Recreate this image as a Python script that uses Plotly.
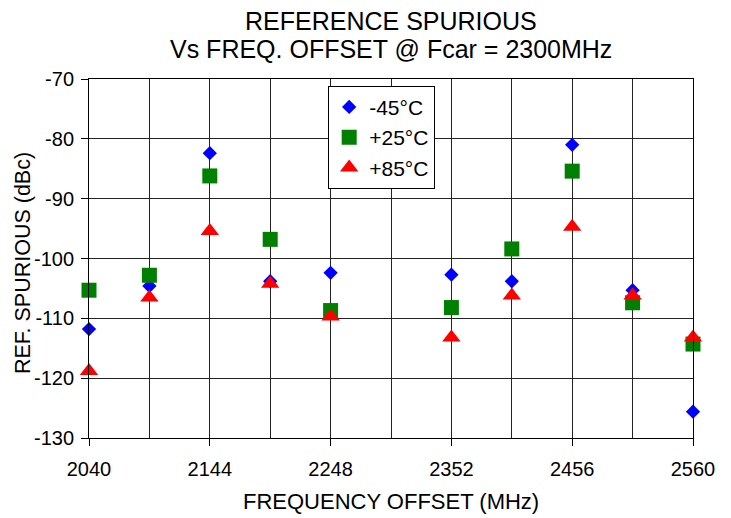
import plotly.graph_objects as go

freq = [2040, 2092, 2144, 2196, 2248, 2300, 2352, 2404, 2456, 2508, 2560]

# values per temperature (None where no visible point)
m45 = [-111.8, -104.6, -82.4, -103.8, -102.4, None, -102.7, -103.8, -81.0, -105.3, -125.6]
p25 = [-105.3, -102.8, -86.2, -96.8, -108.7, None, -108.2, -98.4, -85.4, -107.4, -114.3]
p85 = [-118.8, -106.5, -95.4, -104.2, -109.7, None, -113.2, -106.2, -94.7, -106.2, -113.2]

x_ticks = [2040, 2144, 2248, 2352, 2456, 2560]
y_ticks = [-70, -80, -90, -100, -110, -120, -130]

FONT = "Liberation Sans, Arial, Helvetica, sans-serif"

def pts(vals):
    xs = [f for f, v in zip(freq, vals) if v is not None]
    ys = [v for v in vals if v is not None]
    return xs, ys

fig = go.Figure()
x1, y1 = pts(m45)
fig.add_trace(go.Scatter(x=x1, y=y1, mode="markers", name="-45°C", legendgroup="a", cliponaxis=False,
                         marker=dict(symbol="diamond", size=11, color="#0000FF", line=dict(width=0))))
x2, y2 = pts(p25)
fig.add_trace(go.Scatter(x=x2, y=y2, mode="markers", name="+25°C", legendgroup="b", cliponaxis=False,
                         marker=dict(symbol="square", size=15, color="#008000", line=dict(width=0))))
x3, y3 = pts(p85)
fig.add_trace(go.Scatter(x=x3, y=y3, mode="markers", name="+85°C", legendgroup="c", cliponaxis=False,
                         marker=dict(symbol="triangle-up", size=16, color="#FF0000", line=dict(width=0))))

fig.update_layout(
    width=723, height=510,
    margin=dict(l=81, r=38, t=71, b=80),
    paper_bgcolor="white", plot_bgcolor="white",
    font=dict(family=FONT, size=20, color="black"),
    showlegend=True,
    legend=dict(x=0.396, y=0.981, xanchor="left", yanchor="top",
                bgcolor="white", bordercolor="black", borderwidth=1,
                font=dict(family=FONT, size=21, color="black"),
                traceorder="grouped", tracegroupgap=0,
                itemwidth=30),
    xaxis=dict(range=[2040, 2560], tickvals=x_ticks, ticktext=[str(v) for v in x_ticks],
               showgrid=True, gridcolor="#222", gridwidth=1,
               minor=dict(dtick=52, tick0=2040, showgrid=True, gridcolor="#222", gridwidth=1),
               ticks="outside", ticklen=7, tickcolor="black",
               showline=True, linecolor="black", linewidth=1, mirror=True,
               zeroline=False, ticklabelstandoff=6,
               tickfont=dict(family=FONT, size=20)),
    yaxis=dict(range=[-130, -70], tickvals=y_ticks, ticktext=[str(v) for v in y_ticks],
               showgrid=True, gridcolor="#222", gridwidth=1,
               ticks="outside", ticklen=7, tickcolor="black",
               showline=True, linecolor="black", linewidth=1, mirror=True,
               zeroline=False, ticklabelstandoff=3,
               tickfont=dict(family=FONT, size=20)),
    annotations=[
        dict(text="REFERENCE SPURIOUS", xref="paper", yref="paper", x=0.5, y=1.162,
             xanchor="center", yanchor="middle", showarrow=False,
             font=dict(family=FONT, size=25, color="black")),
        dict(text="Vs FREQ. OFFSET @ Fcar = 2300MHz", xref="paper", yref="paper", x=0.5, y=1.084,
             xanchor="center", yanchor="middle", showarrow=False,
             font=dict(family=FONT, size=25, color="black")),
        dict(text="FREQUENCY OFFSET (MHz)", xref="paper", yref="paper", x=0.5, y=-0.178,
             xanchor="center", yanchor="middle", showarrow=False,
             font=dict(family=FONT, size=22, color="black")),
        dict(text="REF. SPURIOUS (dBc)", xref="paper", yref="paper", x=-0.110, y=0.486,
             xanchor="center", yanchor="middle", textangle=-90, showarrow=False,
             font=dict(family=FONT, size=21.5, color="black")),
    ],
)

fig.write_html("out.html")
